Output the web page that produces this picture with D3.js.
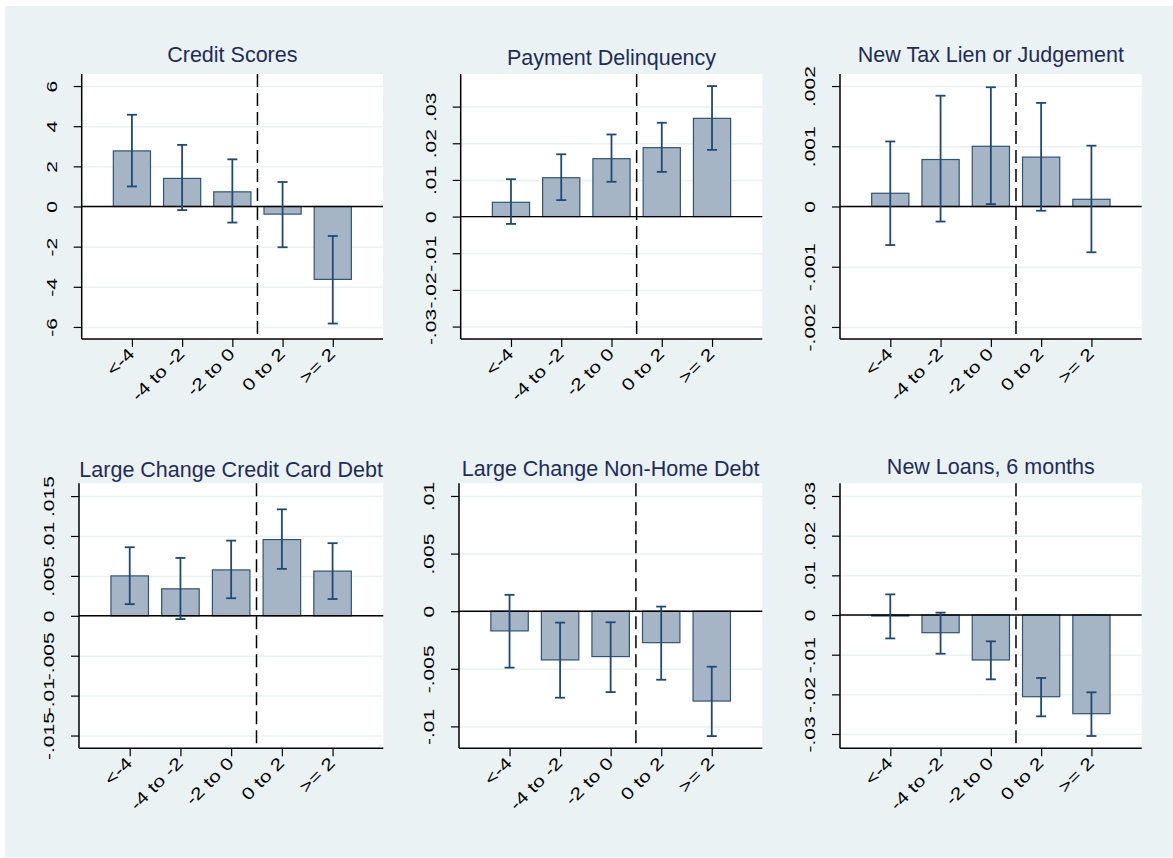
<!DOCTYPE html>
<html>
<head>
<meta charset="utf-8">
<script src="https://cdn.jsdelivr.net/npm/d3@7"></script>
<style>
  body { margin: 0; background: #fff; }
  svg { display: block; font-family: Arial, "Liberation Sans", sans-serif; }
</style>
</head>
<body>
<div id="chart"></div>
<script>
const categories = ["<-4", "-4 to -2", "-2 to 0", "0 to 2", ">= 2"]

const titles = [
	"Credit Scores",
	"Payment Delinquency",
	"New Tax Lien or Judgement",
	"Large Change Credit Card Debt",
	"Large Change Non-Home Debt",
	"New Loans, 6 months",
]

// point estimates and 95% CI bounds, per panel
const creditCoef = [2.77, 1.40, 0.73, -0.38, -3.63]
const creditLo = [1.0, -0.18, -0.8, -2.03, -5.83]
const creditHi = [4.57, 3.07, 2.35, 1.22, -1.47]

const delinqCoef = [0.0039, 0.0106, 0.0158, 0.0188, 0.0268]
const delinqLo = [-0.002, 0.0045, 0.0095, 0.0122, 0.0182]
const delinqHi = [0.0102, 0.017, 0.0224, 0.0256, 0.0356]

const lienCoef = [0.00022, 0.00078, 0.001, 0.00082, 0.00012]
const lienLo = [-0.00064, -0.00025, 0.00004, -0.00007, -0.00076]
const lienHi = [0.00108, 0.00184, 0.00198, 0.00172, 0.00101]

const ccDebtCoef = [0.005, 0.00338, 0.00575, 0.00955, 0.0056]
const ccDebtLo = [0.00146, -0.00041, 0.0022, 0.00588, 0.0021]
const ccDebtHi = [0.00859, 0.00725, 0.00942, 0.01334, 0.0091]

const nonHomeCoef = [-0.00171, -0.00423, -0.00394, -0.00273, -0.0078]
const nonHomeLo = [-0.0049, -0.00751, -0.00702, -0.00595, -0.01084]
const nonHomeHi = [0.00142, -0.00099, -0.00096, 0.0004, -0.00482]

const loansCoef = [-0.00025, -0.00446, -0.01134, -0.0206, -0.02488]
const loansLo = [-0.0059, -0.00976, -0.01622, -0.02554, -0.0305]
const loansHi = [0.0052, 0.0006, -0.00664, -0.01588, -0.01949]

// y axis ticks and labels, per panel
const creditTicks = [-6, -4, -2, 0, 2, 4, 6]
const creditTickLabels = ["-6", "-4", "-2", "0", "2", "4", "6"]
const delinqTicks = [-0.03, -0.02, -0.01, 0, 0.01, 0.02, 0.03]
const delinqTickLabels = ["-.03", "-.02", "-.01", "0", ".01", ".02", ".03"]
const lienTicks = [-0.002, -0.001, 0, 0.001, 0.002]
const lienTickLabels = ["-.002", "-.001", "0", ".001", ".002"]
const ccDebtTicks = [-0.015, -0.01, -0.005, 0, 0.005, 0.01, 0.015]
const ccDebtTickLabels = ["-.015", "-.01", "-.005", "0", ".005", ".01", ".015"]
const nonHomeTicks = [-0.01, -0.005, 0, 0.005, 0.01]
const nonHomeTickLabels = ["-.01", "-.005", "0", ".005", ".01"]
const loansTicks = [-0.03, -0.02, -0.01, 0, 0.01, 0.02, 0.03]
const loansTickLabels = ["-.03", "-.02", "-.01", "0", ".01", ".02", ".03"]

// y axis ranges
const creditDomain = [-6.6, 6.6]
const delinqDomain = [-0.0334, 0.0389]
const lienDomain = [-0.0022, 0.0022]
const ccDebtDomain = [-0.0166, 0.0166]
const nonHomeDomain = [-0.0119, 0.0111]
const loansDomain = [-0.0336, 0.0332]

const panels = [
	{ coef: creditCoef, lo: creditLo, hi: creditHi, ticks: creditTicks, labels: creditTickLabels, domain: creditDomain },
	{ coef: delinqCoef, lo: delinqLo, hi: delinqHi, ticks: delinqTicks, labels: delinqTickLabels, domain: delinqDomain },
	{ coef: lienCoef, lo: lienLo, hi: lienHi, ticks: lienTicks, labels: lienTickLabels, domain: lienDomain },
	{ coef: ccDebtCoef, lo: ccDebtLo, hi: ccDebtHi, ticks: ccDebtTicks, labels: ccDebtTickLabels, domain: ccDebtDomain },
	{ coef: nonHomeCoef, lo: nonHomeLo, hi: nonHomeHi, ticks: nonHomeTicks, labels: nonHomeTickLabels, domain: nonHomeDomain },
	{ coef: loansCoef, lo: loansLo, hi: loansHi, ticks: loansTicks, labels: loansTickLabels, domain: loansDomain },
]

// plot-region boxes (left, right, top, bottom) and title baselines
const boxes = [
	{ l: 81.7, r: 383, t: 74, b: 339, ty: 62 },
	{ l: 460.7, r: 762.3, t: 74, b: 339, ty: 65 },
	{ l: 840, r: 1141.7, t: 74, b: 339, ty: 62 },
	{ l: 79, r: 383.3, t: 483.3, b: 748.3, ty: 476.5 },
	{ l: 459, r: 762.3, t: 483.3, b: 748.3, ty: 476 },
	{ l: 840, r: 1141.7, t: 483.3, b: 748.3, ty: 474 },
]

const W = 1173, H = 858
const bgColor = "#eaf2f3"
const barFill = "#a6b5c6"
const barStroke = "#2d5479"
const ciColor = "#1e4a74"
const titleColor = "#1f2c5a"
// rotated labels in the source are drawn long and narrow
const tickFont = 21
const tickSquash = 0.74
const catFont = 21
const catSquash = 0.8

const svg = d3.select("#chart").append("svg").attr("width", W).attr("height", H)

svg.append("rect")
	.attr("x", 5).attr("y", 6)
	.attr("width", W - 5).attr("height", H - 7)
	.attr("fill", bgColor)

panels.forEach((p, i) => {
	const box = boxes[i]
	const g = svg.append("g").attr("class", "panel")

	const x = d3.scaleLinear().domain([0, 6]).range([box.l, box.r])
	const y = d3.scaleLinear().domain(p.domain).range([box.b, box.t])
	const barW = x(0.74) - x(0)

	// plot area
	g.append("rect")
		.attr("x", box.l).attr("y", box.t)
		.attr("width", box.r - box.l).attr("height", box.b - box.t)
		.attr("fill", "#fff")

	// gridlines
	g.append("g")
		.attr("transform", `translate(${box.l},0)`)
		.call(d3.axisLeft(y).tickValues(p.ticks).tickSize(-(box.r - box.l)).tickFormat(""))
		.call((s) => s.select(".domain").remove())
		.selectAll("line")
		.attr("stroke", bgColor)
		.attr("stroke-width", 1.5)

	// title
	g.append("text")
		.attr("x", (box.l + box.r) / 2)
		.attr("y", box.ty)
		.attr("text-anchor", "middle")
		.attr("fill", titleColor)
		.attr("font-size", 21.5)
		.text(titles[i])

	// bars
	const data = categories.map((c, j) => ({ c, pos: j + 1, v: p.coef[j], lo: p.lo[j], hi: p.hi[j] }))

	g.selectAll("rect.bar")
		.data(data)
		.join("rect")
		.attr("class", "bar")
		.attr("x", (d) => x(d.pos) - barW / 2)
		.attr("width", barW)
		.attr("y", (d) => y(Math.max(0, d.v)))
		.attr("height", (d) => Math.abs(y(d.v) - y(0)))
		.attr("fill", barFill)
		.attr("stroke", barStroke)
		.attr("stroke-width", 1.2)

	// zero line
	g.append("line")
		.attr("x1", box.l).attr("x2", box.r)
		.attr("y1", y(0)).attr("y2", y(0))
		.attr("stroke", "#000")
		.attr("stroke-width", 1.4)

	// confidence intervals
	const ci = g.selectAll("g.ci").data(data).join("g").attr("class", "ci")
		.attr("stroke", ciColor)
		.attr("stroke-width", 1.8)
	ci.append("line")
		.attr("x1", (d) => x(d.pos)).attr("x2", (d) => x(d.pos))
		.attr("y1", (d) => y(d.lo)).attr("y2", (d) => y(d.hi))
	ci.append("line")
		.attr("x1", (d) => x(d.pos) - 5).attr("x2", (d) => x(d.pos) + 5)
		.attr("y1", (d) => y(d.lo)).attr("y2", (d) => y(d.lo))
	ci.append("line")
		.attr("x1", (d) => x(d.pos) - 5).attr("x2", (d) => x(d.pos) + 5)
		.attr("y1", (d) => y(d.hi)).attr("y2", (d) => y(d.hi))

	// cutoff line
	g.append("line")
		.attr("x1", x(3.5)).attr("x2", x(3.5))
		.attr("y1", box.t).attr("y2", box.b)
		.attr("stroke", "#000")
		.attr("stroke-width", 1.5)
		.attr("stroke-dasharray", "13,6")

	// y axis
	const yAxis = g.append("g")
		.attr("transform", `translate(${box.l},0)`)
		.call(d3.axisLeft(y).tickValues(p.ticks).tickSize(8).tickPadding(0)
			.tickFormat((d, k) => p.labels[k]))
		.attr("font-size", tickFont)
		.attr("font-family", "Arial, 'Liberation Sans', sans-serif")
	yAxis.select(".domain").attr("d", `M0,${box.t}V${box.b}`).attr("stroke", "#000").attr("stroke-width", 1.5)
	yAxis.selectAll(".tick line").attr("stroke", "#000").attr("stroke-width", 1.2)
	yAxis.selectAll(".tick text")
		.attr("x", null).attr("dy", null)
		.attr("transform", `translate(-25,0) rotate(-90) scale(1,${tickSquash})`)
		.attr("text-anchor", "middle")
		.attr("fill", "#000")
		.attr("font-size", tickFont)

	// x axis
	const xAxis = g.append("g")
		.attr("transform", `translate(0,${box.b})`)
		.call(d3.axisBottom(x).tickValues([1, 2, 3, 4, 5]).tickSize(8)
			.tickFormat((d) => categories[d - 1]))
		.attr("font-size", catFont)
		.attr("font-family", "Arial, 'Liberation Sans', sans-serif")
	xAxis.select(".domain").attr("d", `M${box.l},0H${box.r}`).attr("stroke", "#000").attr("stroke-width", 1.5)
	xAxis.selectAll(".tick line").attr("stroke", "#000").attr("stroke-width", 1.2)
	xAxis.selectAll(".tick text")
		.attr("y", null).attr("dy", null)
		.attr("transform", `translate(3,16) rotate(-45) scale(1,${catSquash})`)
		.attr("text-anchor", "end")
		.attr("fill", "#000")
		.attr("font-size", catFont)
})
</script>
</body>
</html>
